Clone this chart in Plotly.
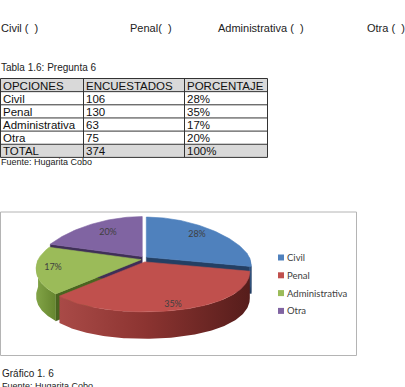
import math
import plotly.graph_objects as go

# ---------------- data ----------------
QUESTION_OPTIONS = ["Civil (  )", "Penal(  )", "Administrativa (  )", "Otra (  )"]
TABLE_TITLE = "Tabla 1.6: Pregunta 6"
TABLE_HEADERS = ["OPCIONES", "ENCUESTADOS", "PORCENTAJE"]
CATEGORIES = ["Civil", "Penal", "Administrativa", "Otra"]
ENCUESTADOS = [106, 130, 63, 75]
PORCENTAJE = [28, 35, 17, 20]
TOTAL_LABEL = "TOTAL"
TOTAL_ENC = 374
TOTAL_PCT = 100
SOURCE = "Fuente: Hugarita Cobo"
CHART_CAPTION = "Gráfico 1. 6"

# ---------------- style ----------------
W, H = 405, 387
DOC_FONT = "Liberation Sans"
CHART_FONT = "Lato"
OPTION_X = [0, 129, 217, 366]
TOP_COLORS = ["#4f81bd", "#c0504d", "#9bbb59", "#8064a2"]
SIDE_SCALES = [
    [[0, "#3a6090"], [1, "#294a72"]],
    [[0, "#a94a47"], [0.45, "#8c3431"], [1, "#561d1b"]],
    [[0, "#82a447"], [1, "#66862f"]],
    [[0, "#6a5289"], [1, "#4d3a66"]],
]
FACE_COLORS = ["#243f63", "#6e2725", "#4a6520", "#3f2f57"]
LABEL_OFFSETS = [(53, -24), (29, 46), (-91, 9), (-36, -26)]

CX, CY = 144, 259
RX = 103
RY_BACK, RY_FRONT = 40, 50
PERSP = 0.2
DEPTH = 27
EXPLODE = 3

fig = go.Figure()


def rim(theta, ox, oy, dy=0.0):
    t = math.radians(theta)
    s, c = math.sin(t), math.cos(t)
    ry = RY_BACK if c > 0 else RY_FRONT
    return CX + ox + RX * s * (1 - PERSP * c), CY + oy - ry * c + dy


def arc(a, b, ox, oy, dy=0.0):
    n = max(2, int(abs(b - a)) + 1)
    pts = [rim(a + (b - a) * i / (n - 1), ox, oy, dy) for i in range(n)]
    return pts


def add_poly(pts, **kw):
    xs = [p[0] for p in pts] + [pts[0][0]]
    ys = [p[1] for p in pts] + [pts[0][1]]
    fig.add_trace(go.Scatter(x=xs, y=ys, mode="lines", fill="toself",
                             hoverinfo="skip", showlegend=False, **kw))


total = sum(PORCENTAJE)
starts, ends, offs = [], [], []
acc = 0.0
for v in PORCENTAJE:
    a = acc / total * 360
    acc += v
    b = acc / total * 360
    mid = math.radians((a + b) / 2)
    starts.append(a)
    ends.append(b)
    offs.append((EXPLODE * math.sin(mid), -EXPLODE * math.cos(mid)))

# radial faces (visible cut faces)
for i in range(len(PORCENTAJE)):
    ox, oy = offs[i]
    for ang, visible in ((ends[i], math.sin(math.radians(ends[i])) > 1e-6),
                         (starts[i], math.sin(math.radians(starts[i])) < -1e-6)):
        if visible:
            r0 = rim(ang, ox, oy)
            r1 = rim(ang, ox, oy, DEPTH)
            c0 = (CX + ox, CY + oy)
            c1 = (CX + ox, CY + oy + DEPTH)
            add_poly([c0, r0, r1, c1], fillcolor=FACE_COLORS[i],
                     line=dict(width=0.5, color=FACE_COLORS[i]))

# outer side walls (front half only)
for i in range(len(PORCENTAJE)):
    ox, oy = offs[i]
    a, b = max(starts[i], 90), min(ends[i], 270)
    if b > a:
        top = arc(a, b, ox, oy)
        bot = arc(a, b, ox, oy, DEPTH)[::-1]
        add_poly(top + bot,
                 fillgradient=dict(type="horizontal", colorscale=SIDE_SCALES[i]),
                 line=dict(width=0))

# top faces
for i in range(len(PORCENTAJE)):
    ox, oy = offs[i]
    pts = [(CX + ox, CY + oy)] + arc(starts[i], ends[i], ox, oy)
    add_poly(pts, fillcolor=TOP_COLORS[i],
             line=dict(width=0.6, color=TOP_COLORS[i]))

# percentage labels
fig.add_trace(go.Scatter(
    x=[CX + d[0] for d in LABEL_OFFSETS],
    y=[CY + d[1] for d in LABEL_OFFSETS],
    mode="text", text=[f"{v}%" for v in PORCENTAJE],
    textfont=dict(family=CHART_FONT, size=9, color="#404040"),
    hoverinfo="skip", showlegend=False))

# legend (squares + text)
LEG_X, LEG_Y0, LEG_STEP = 281, 257.5, 17.8
fig.add_trace(go.Scatter(
    x=[LEG_X] * len(CATEGORIES),
    y=[LEG_Y0 + i * LEG_STEP for i in range(len(CATEGORIES))],
    mode="markers", marker=dict(symbol="square", size=6, color=TOP_COLORS,
                                line=dict(width=0)),
    hoverinfo="skip", showlegend=False))

ann = []
for i, c in enumerate(CATEGORIES):
    ann.append(dict(x=LEG_X + 4, y=LEG_Y0 + i * LEG_STEP, text=c, showarrow=False,
                    xanchor="left", yanchor="middle",
                    font=dict(family=CHART_FONT, size=9.5, color="#404040")))

# question options line
for t, x in zip(QUESTION_OPTIONS, OPTION_X):
    ann.append(dict(x=x, y=28, xshift=-1, text=t, showarrow=False, xanchor="left",
                    yanchor="middle", font=dict(family=DOC_FONT, size=11, color="#222")))

ann.append(dict(x=0, y=67, xshift=-1, text=TABLE_TITLE, showarrow=False, xanchor="left",
                yanchor="middle", font=dict(family=DOC_FONT, size=10, color="#222")))

# table
COL_X = [0.5, 83.5, 184.5, 267.5]
ROW_TOP, ROW_H = 78.5, 13.15
rows = [TABLE_HEADERS]
for c, e, p in zip(CATEGORIES, ENCUESTADOS, PORCENTAJE):
    rows.append([c, str(e), f"{p}%"])
rows.append([TOTAL_LABEL, str(TOTAL_ENC), f"{TOTAL_PCT}%"])
n_rows = len(rows)
shapes = []
for r in (0, n_rows - 1):
    shapes.append(dict(type="rect", x0=COL_X[0], x1=COL_X[-1],
                       y0=ROW_TOP + r * ROW_H, y1=ROW_TOP + (r + 1) * ROW_H,
                       fillcolor="#d9d9d9", line=dict(width=0), layer="below"))
for r in range(n_rows + 1):
    yy = ROW_TOP + r * ROW_H
    shapes.append(dict(type="line", x0=COL_X[0], x1=COL_X[-1], y0=yy, y1=yy,
                       line=dict(color="#333", width=1)))
for xx in COL_X:
    shapes.append(dict(type="line", x0=xx, x1=xx, y0=ROW_TOP,
                       y1=ROW_TOP + n_rows * ROW_H, line=dict(color="#333", width=1)))
for r, row in enumerate(rows):
    for ci, txt in enumerate(row):
        ann.append(dict(x=COL_X[ci], y=ROW_TOP + (r + 0.5) * ROW_H + 0.5, text=txt,
                        showarrow=False, xanchor="left", yanchor="middle",
                        font=dict(family=DOC_FONT, size=11.5, color="#111")))

ann.append(dict(x=0, y=ROW_TOP + n_rows * ROW_H + 4.5, xshift=-1, text=SOURCE,
                showarrow=False, xanchor="left", yanchor="middle",
                font=dict(family=DOC_FONT, size=9, color="#222")))

# chart box
shapes.append(dict(type="rect", x0=0.5, x1=356.5, y0=212, y1=355.5,
                   line=dict(color="#b4b4b4", width=1), layer="below"))

ann.append(dict(x=0, y=373, text=CHART_CAPTION, showarrow=False, xanchor="left",
                yanchor="middle", font=dict(family=DOC_FONT, size=10, color="#222")))
ann.append(dict(x=0, y=386, text=SOURCE, showarrow=False, xanchor="left",
                yanchor="middle", font=dict(family=DOC_FONT, size=9, color="#222")))

fig.update_layout(
    width=W, height=H, margin=dict(l=0, r=0, t=0, b=0),
    paper_bgcolor="white", plot_bgcolor="white",
    xaxis=dict(range=[0, W], visible=False, fixedrange=True),
    yaxis=dict(range=[H, 0], visible=False, fixedrange=True),
    annotations=ann, shapes=shapes, showlegend=False,
)

fig.write_html("out.html", config={"displayModeBar": False})
